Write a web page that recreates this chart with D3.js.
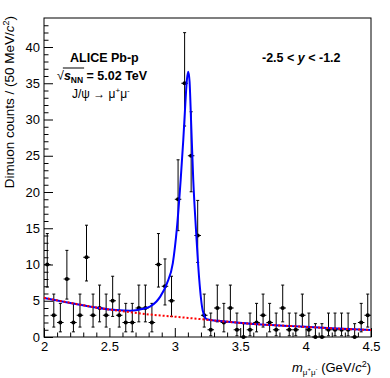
<!DOCTYPE html>
<html>
<head>
<meta charset="utf-8">
<script src="https://cdn.jsdelivr.net/npm/d3@7"></script>
<style>
  body { margin: 0; background: #fff; }
  svg { display: block; font-family: "Liberation Sans", Arial, Helvetica, sans-serif; }
</style>
</head>
<body>
<div id="vis"></div>
<script>
// bin centres (GeV/c^2), 50 MeV bins
const binCenters = [
  2.025, 2.075, 2.125, 2.175, 2.225, 2.275, 2.325, 2.375, 2.425, 2.475,
  2.525, 2.575, 2.625, 2.675, 2.725, 2.775, 2.825, 2.875, 2.925, 2.975,
  3.025, 3.075, 3.125, 3.175, 3.225, 3.275, 3.325, 3.375, 3.425, 3.475,
  3.525, 3.575, 3.625, 3.675, 3.725, 3.775, 3.825, 3.875, 3.925, 3.975,
  4.025, 4.075, 4.125, 4.175, 4.225, 4.275, 4.325, 4.375, 4.425, 4.475
];
const counts = [
  10, 3, 2, 8, 2, 3, 11, 3, 4, 3,
  5, 3, 2, 2, 4, 4, 2, 10, 7, 5,
  19, 35, 25, 14, 3, 1, 4, 2, 4, 1,
  0, 1, 2, 3, 2, 1, 4, 1, 1, 3,
  1, 0, 0, 1, 1, 1, 1, 0, 2, 3
];
// poisson error bar ends, looked up by count
const errN    = [0, 1, 2, 3, 4, 5, 7, 8, 10, 11, 14, 19, 25, 35];
const errLow  = [0, 0.17, 0.71, 1.37, 2.09, 2.84, 4.42, 5.23, 6.89, 7.73, 10.29, 14.67, 20.03, 29.10];
const errHigh = [1.84, 3.30, 4.64, 5.92, 7.16, 8.38, 10.77, 11.95, 14.27, 15.42, 18.84, 24.44, 31.07, 41.98];

// fit curves
const fitMass  = [2.00, 2.20, 2.43, 2.55, 2.66, 2.75, 2.81, 2.86, 2.89, 2.94, 2.985, 3.015, 3.045, 3.065, 3.080, 3.092, 3.103, 3.113, 3.124, 3.141, 3.162, 3.187, 3.213, 3.244, 3.30, 3.35, 3.60, 3.90, 4.20, 4.50];
const fitTotal = [5.40, 4.70, 3.97, 3.72, 3.63, 3.85, 4.20, 4.90, 5.60, 7.40, 10.2, 14.8, 21.7, 27.2, 32.0, 35.4, 36.6, 35.2, 30.0, 21.7, 14.8, 7.9, 3.7, 2.45, 2.29, 2.20, 1.80, 1.50, 1.20, 0.96];
const bkgMass  = [2.00, 2.25, 2.43, 2.60, 2.81, 3.00, 3.12, 3.35, 3.60, 3.90, 4.20, 4.50];
const bkgCount = [5.40, 4.55, 3.98, 3.55, 3.10, 2.80, 2.60, 2.20, 1.80, 1.50, 1.20, 0.96];

const xTicks = [2, 2.5, 3, 3.5, 4, 4.5];
const xMinor = [2.1, 2.2, 2.3, 2.4, 2.6, 2.7, 2.8, 2.9, 3.1, 3.2, 3.3, 3.4, 3.6, 3.7, 3.8, 3.9, 4.1, 4.2, 4.3, 4.4];
const yTicks = [0, 5, 10, 15, 20, 25, 30, 35, 40];
const yMinor = [1, 2, 3, 4, 6, 7, 8, 9, 11, 12, 13, 14, 16, 17, 18, 19, 21, 22, 23, 24, 26, 27, 28, 29, 31, 32, 33, 34, 36, 37, 38, 39, 41, 42, 43];

const W = 390, H = 378;
const margin = { top: 18, right: 19, bottom: 41, left: 44 };
const width = W - margin.left - margin.right;
const height = H - margin.top - margin.bottom;

const svg = d3.select("#vis").append("svg")
  .attr("width", W)
  .attr("height", H);

const vis = svg.append("g")
  .attr("transform", "translate(" + margin.left + "," + margin.top + ")");

const x = d3.scaleLinear().domain([2, 4.5]).range([0, width]);
const y = d3.scaleLinear().domain([0, 44]).range([height, 0]);

// axes, ticks pointing inwards
vis.append("g")
  .attr("transform", "translate(0," + height + ")")
  .call(d3.axisBottom(x).tickValues(xMinor).tickSize(-4.5).tickFormat(""))
  .call(g => g.select(".domain").remove());
vis.append("g")
  .attr("class", "xaxis")
  .attr("transform", "translate(0," + height + ")")
  .call(d3.axisBottom(x).tickValues(xTicks).tickSize(-9).tickPadding(5).tickFormat(d3.format("")))
  .call(g => g.select(".domain").remove());
vis.append("g")
  .call(d3.axisLeft(y).tickValues(yMinor).tickSize(-4.5).tickFormat(""))
  .call(g => g.select(".domain").remove());
vis.append("g")
  .attr("class", "yaxis")
  .call(d3.axisLeft(y).tickValues(yTicks).tickSize(-9).tickPadding(4))
  .call(g => g.select(".domain").remove());

vis.selectAll(".tick line").attr("stroke", "#000");
vis.selectAll(".xaxis text, .yaxis text")
  .attr("font-size", 13)
  .attr("font-family", "Liberation Sans, Arial, sans-serif")
  .attr("fill", "#000");

// frame
vis.append("rect")
  .attr("x", 0).attr("y", 0)
  .attr("width", width).attr("height", height)
  .attr("fill", "none")
  .attr("stroke", "#000")
  .attr("stroke-width", 1);

// data points with poisson errors
const pts = vis.append("g");
binCenters.forEach(function(c, i) {
  const n = counts[i];
  const k = errN.indexOf(n);
  const cx = x(c), cy = y(n);
  const yl = y(errLow[k]), yh = y(errHigh[k]);
  pts.append("line")
    .attr("x1", cx).attr("x2", cx)
    .attr("y1", yl).attr("y2", yh)
    .attr("stroke", "#000").attr("stroke-width", 1);
  [yl, yh].forEach(function(ye) {
    if (errLow[k] == 0 && ye == yl) return;
    pts.append("line")
      .attr("x1", cx - 1.5).attr("x2", cx + 1.5)
      .attr("y1", ye).attr("y2", ye)
      .attr("stroke", "#000").attr("stroke-width", 1);
  });
  pts.append("line")
    .attr("x1", x(c - 0.025)).attr("x2", x(c + 0.025))
    .attr("y1", cy).attr("y2", cy)
    .attr("stroke", "#000").attr("stroke-width", 1);
  pts.append("circle")
    .attr("cx", cx).attr("cy", cy).attr("r", 2.1)
    .attr("fill", "#000");
});

// fit lines
const line = d3.line()
  .x(function(d) { return x(d[0]); })
  .y(function(d) { return y(d[1]); })
  .curve(d3.curveMonotoneX);

vis.append("path")
  .datum(fitMass.map(function(m, i) { return [m, fitTotal[i]]; }))
  .attr("fill", "none")
  .attr("stroke", "#0000ff")
  .attr("stroke-width", 2)
  .attr("d", line);

vis.append("path")
  .datum(bkgMass.map(function(m, i) { return [m, bkgCount[i]]; }))
  .attr("fill", "none")
  .attr("stroke", "#ff0000")
  .attr("stroke-width", 2)
  .attr("stroke-dasharray", "2,2")
  .attr("d", line);

// axis titles
svg.append("text")
  .attr("transform", "translate(14," + (margin.top - 2) + ") rotate(-90)")
  .attr("text-anchor", "end")
  .attr("font-size", 13.5)
  .html('Dimuon counts / (50 MeV/<tspan font-style="italic">c</tspan><tspan dy="-5" font-size="9">2</tspan><tspan dy="5">)</tspan>');

svg.append("text")
  .attr("x", margin.left + width)
  .attr("y", 372)
  .attr("text-anchor", "end")
  .attr("font-size", 13)
  .html('<tspan font-style="italic">m</tspan><tspan dy="3" font-size="8">&#956;</tspan><tspan dy="-4" font-size="6">+</tspan><tspan dy="4" font-size="8">&#956;</tspan><tspan dy="-4" font-size="6">-</tspan><tspan dy="1"> (GeV/</tspan><tspan font-style="italic">c</tspan><tspan dy="-5" font-size="9">2</tspan><tspan dy="5">)</tspan>');

// labels
svg.append("text")
  .attr("x", 70).attr("y", 62)
  .attr("font-size", 12.5)
  .attr("font-weight", "bold")
  .text("ALICE Pb-p");

const sq = svg.append("text")
  .attr("x", 57).attr("y", 80)
  .attr("font-size", 12.5)
  .attr("font-weight", "bold")
  .html('<tspan font-weight="normal">&#8730;</tspan><tspan font-style="italic">s</tspan><tspan dy="3" font-size="8.5">NN</tspan><tspan dy="-3"> = 5.02 TeV</tspan>');
const sqNode = sq.node();
const rootW = sqNode.getSubStringLength(0, 1);
const argW = sqNode.getSubStringLength(1, 3);
svg.append("line")
  .attr("x1", 57 + rootW - 1).attr("x2", 57 + rootW + argW + 1)
  .attr("y1", 68).attr("y2", 68)
  .attr("stroke", "#000").attr("stroke-width", 1);

svg.append("text")
  .attr("x", 72).attr("y", 98)
  .attr("font-size", 12)
  .html('J/&#968; &#8594; &#956;<tspan dy="-5" font-size="8">+</tspan><tspan dy="5">&#956;</tspan><tspan dy="-5" font-size="8">-</tspan>');

svg.append("text")
  .attr("x", 262).attr("y", 62)
  .attr("font-size", 12.5)
  .attr("font-weight", "bold")
  .html('-2.5 &lt; <tspan font-style="italic">y</tspan> &lt; -1.2');
</script>
</body>
</html>
